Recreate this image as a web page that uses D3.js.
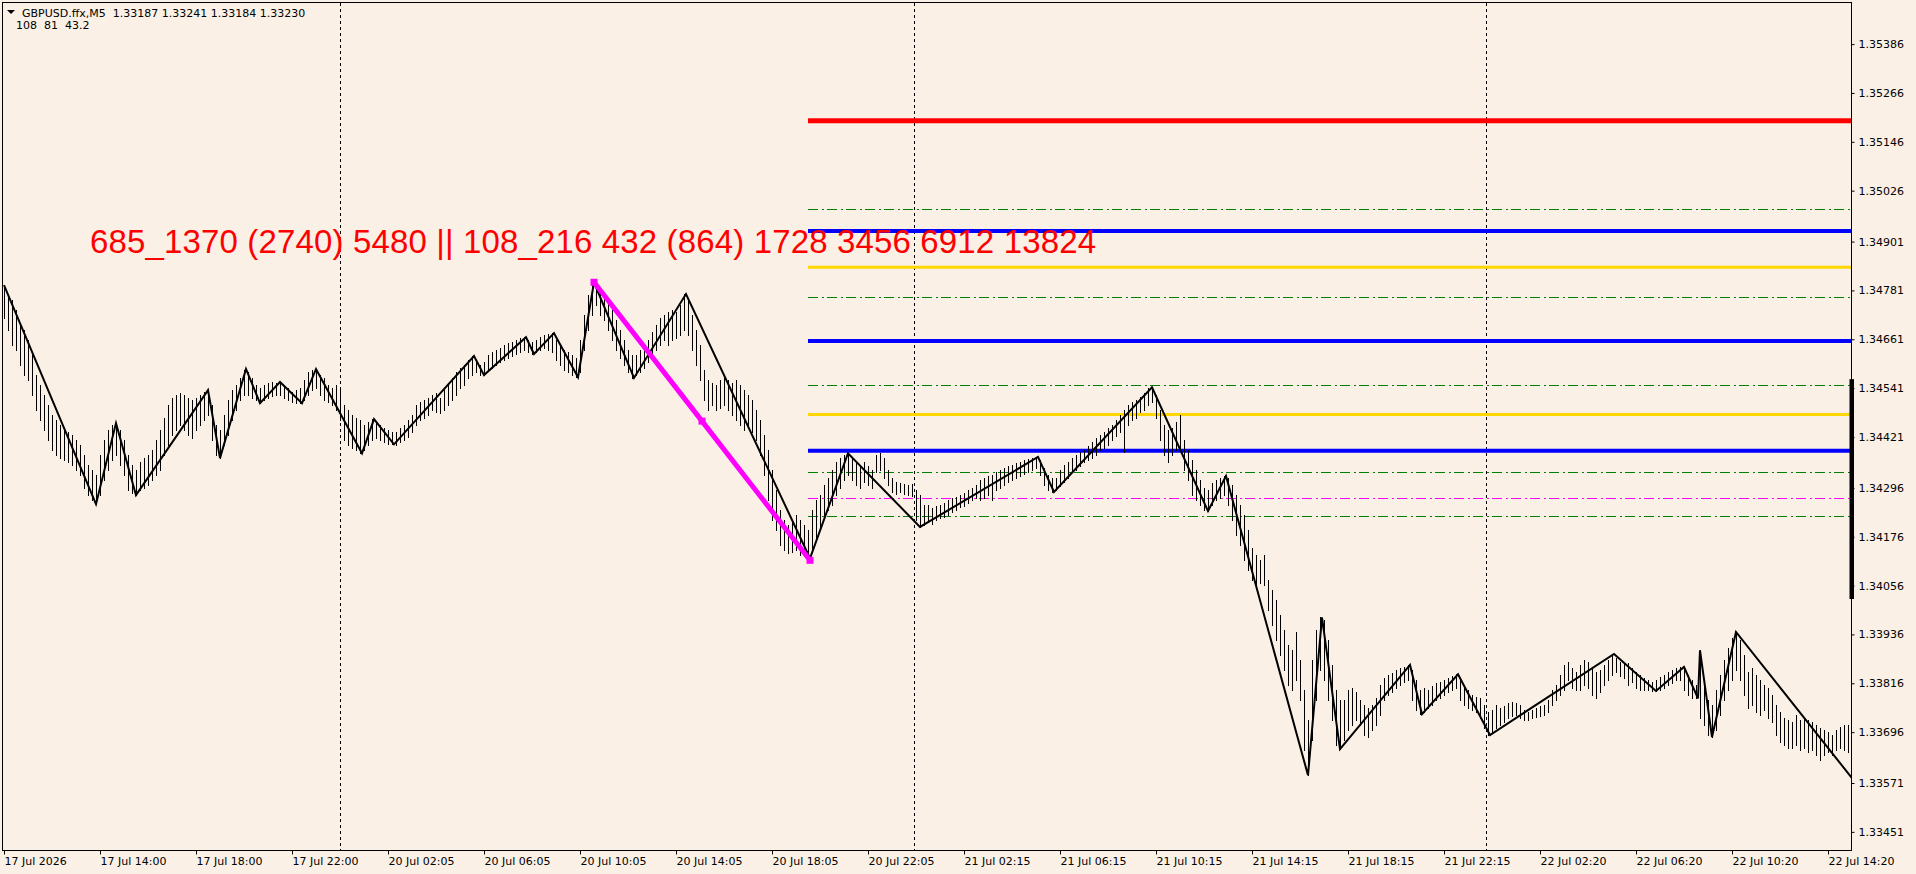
<!DOCTYPE html>
<html>
<head>
<meta charset="utf-8">
<script src="https://cdn.jsdelivr.net/npm/d3@7"></script>
<style>
  html, body { margin: 0; padding: 0; background: #faf0e6; overflow: hidden; }
  svg { display: block; }
</style>
</head>
<body>
<script>
// header / info texts
const symbolName = 'GBPUSD.ffx,M5';
const lastOHLC = [1.33187, 1.33241, 1.33184, 1.33230];
const zigzagParams = [108, 81, 43.2];
const infoText = '685_1370 (2740) 5480 || 108_216 432 (864) 1728 3456 6912 13824';

// time axis (M5 bar index of each label)
const timeLabels = ['17 Jul 2026', '17 Jul 14:00', '17 Jul 18:00', '17 Jul 22:00', '20 Jul 02:05',
  '20 Jul 06:05', '20 Jul 10:05', '20 Jul 14:05', '20 Jul 18:05', '20 Jul 22:05', '21 Jul 02:15',
  '21 Jul 06:15', '21 Jul 10:15', '21 Jul 14:15', '21 Jul 18:15', '21 Jul 22:15', '22 Jul 02:20',
  '22 Jul 06:20', '22 Jul 10:20', '22 Jul 14:20'];
const timeLabelBars = [0, 48, 96, 144, 192, 240, 288, 336, 384, 432, 480, 528, 576, 624, 672, 720, 768, 816, 864, 912];
const daySeparatorBars = [168, 455, 741];
const lastBar = 924;

// price axis
const priceTicks = [1.35386, 1.35266, 1.35146, 1.35026, 1.34901, 1.34781, 1.34661, 1.34541, 1.34421,
  1.34296, 1.34176, 1.34056, 1.33936, 1.33816, 1.33696, 1.33571, 1.33451];
const priceRange = [1.33404, 1.35487];

// price bars, one entry every 2nd M5 bar
const barStep = 2;
const barHigh = [
  1.34794, 1.34770, 1.34757, 1.34733, 1.34696, 1.34683, 1.34659, 1.34622, 1.34573, 1.34548, 1.34524, 1.34499,
  1.34475, 1.34462, 1.34450, 1.34438, 1.34433, 1.34425, 1.34413, 1.34401, 1.34376, 1.34352, 1.34339, 1.34327,
  1.34376, 1.34413, 1.34438, 1.34450, 1.34455,
  1.34438, 1.34413, 1.34376, 1.34352, 1.34339,
  1.34359, 1.34369, 1.34376, 1.34389, 1.34413, 1.34438, 1.34467, 1.34499, 1.34516, 1.34524, 1.34528, 1.34524,
  1.34516, 1.34511, 1.34516, 1.34524, 1.34531, 1.34536,
  1.34499, 1.34450, 1.34438,
  1.34475, 1.34511, 1.34536, 1.34548, 1.34565, 1.34585,
  1.34580, 1.34565, 1.34548, 1.34541,
  1.34548, 1.34553, 1.34556, 1.34553, 1.34556,
  1.34548, 1.34541, 1.34531, 1.34536, 1.34541,
  1.34561, 1.34580, 1.34585, 1.34588,
  1.34573, 1.34565, 1.34548, 1.34541, 1.34548, 1.34536, 1.34499, 1.34487, 1.34475, 1.34467, 1.34462,
  1.34450, 1.34457, 1.34465,
  1.34457, 1.34450, 1.34443, 1.34438, 1.34433,
  1.34433, 1.34443, 1.34450, 1.34462, 1.34475, 1.34499, 1.34506, 1.34511, 1.34516, 1.34524, 1.34528, 1.34516,
  1.34536, 1.34548, 1.34565, 1.34580, 1.34590, 1.34597, 1.34610, 1.34620,
  1.34610, 1.34597,
  1.34605, 1.34622, 1.34629, 1.34634, 1.34639, 1.34647, 1.34652, 1.34654, 1.34659, 1.34664, 1.34666,
  1.34659, 1.34654,
  1.34659, 1.34666, 1.34671, 1.34674, 1.34676,
  1.34659, 1.34647, 1.34634, 1.34629, 1.34622, 1.34615,
  1.34659, 1.34720, 1.34770, 1.34801,
  1.34794, 1.34782, 1.34770, 1.34757, 1.34733, 1.34708, 1.34683, 1.34659, 1.34634, 1.34622,
  1.34622, 1.34634, 1.34647, 1.34659, 1.34678, 1.34696, 1.34713, 1.34720, 1.34728, 1.34733, 1.34728, 1.34745, 1.34772,
  1.34757, 1.34720, 1.34683, 1.34647, 1.34585, 1.34561, 1.34553, 1.34548, 1.34561, 1.34565, 1.34561, 1.34553,
  1.34561, 1.34548, 1.34536, 1.34524, 1.34511, 1.34487, 1.34462, 1.34425, 1.34389, 1.34339, 1.34290, 1.34241,
  1.34217, 1.34204, 1.34217, 1.34229, 1.34217, 1.34204, 1.34192,
  1.34241, 1.34266, 1.34278, 1.34303, 1.34320, 1.34339, 1.34359, 1.34369, 1.34376, 1.34381,
  1.34369, 1.34359, 1.34352, 1.34359, 1.34349, 1.34339, 1.34376, 1.34381, 1.34369, 1.34339, 1.34320, 1.34310,
  1.34308, 1.34305, 1.34303, 1.34305, 1.34290, 1.34278,
  1.34253, 1.34253, 1.34246, 1.34251, 1.34253, 1.34258, 1.34266, 1.34271, 1.34273, 1.34278, 1.34283, 1.34290,
  1.34295, 1.34303, 1.34315, 1.34320, 1.34325, 1.34327, 1.34334, 1.34339, 1.34344, 1.34349, 1.34352, 1.34357,
  1.34359, 1.34364, 1.34367, 1.34369, 1.34372,
  1.34364, 1.34344, 1.34327, 1.34320,
  1.34320, 1.34339, 1.34352, 1.34359, 1.34369, 1.34376, 1.34384, 1.34389, 1.34398, 1.34408, 1.34418, 1.34425,
  1.34433, 1.34443, 1.34450, 1.34462, 1.34475, 1.34487, 1.34499, 1.34506, 1.34511, 1.34518, 1.34528, 1.34541,
  1.34541, 1.34524, 1.34487, 1.34450, 1.34438, 1.34443, 1.34457, 1.34475, 1.34413, 1.34389, 1.34364, 1.34339,
  1.34315, 1.34295, 1.34290,
  1.34307, 1.34315, 1.34320, 1.34325,
  1.34320, 1.34303, 1.34278, 1.34253, 1.34229, 1.34192, 1.34148, 1.34131, 1.34118, 1.34131, 1.34069, 1.34045,
  1.34020, 1.33983, 1.33947, 1.33910, 1.33897, 1.33942, 1.33873, 1.33799, 1.33725,
  1.33873, 1.33947, 1.33978,
  1.33971, 1.33922, 1.33861, 1.33799, 1.33774,
  1.33774, 1.33799, 1.33804, 1.33794, 1.33774, 1.33762, 1.33755, 1.33762, 1.33779, 1.33811, 1.33828, 1.33836,
  1.33841, 1.33848, 1.33853, 1.33855, 1.33861,
  1.33848, 1.33824, 1.33799,
  1.33804, 1.33799, 1.33809, 1.33816, 1.33819, 1.33824, 1.33828, 1.33833, 1.33838,
  1.33824, 1.33811, 1.33799, 1.33787, 1.33782, 1.33779, 1.33762, 1.33745,
  1.33750, 1.33762, 1.33755, 1.33760, 1.33767, 1.33770, 1.33767, 1.33762, 1.33750, 1.33745, 1.33750, 1.33755,
  1.33760, 1.33762, 1.33774, 1.33799, 1.33811, 1.33836, 1.33861, 1.33868, 1.33853, 1.33843, 1.33861, 1.33873,
  1.33868, 1.33853, 1.33843, 1.33848, 1.33861, 1.33873, 1.33885,
  1.33878, 1.33868, 1.33863, 1.33865, 1.33853, 1.33843, 1.33836, 1.33828, 1.33824, 1.33819,
  1.33824, 1.33831, 1.33836, 1.33843, 1.33848, 1.33853, 1.33855,
  1.33851, 1.33836, 1.33824, 1.33811, 1.33897, 1.33824, 1.33774, 1.33762,
  1.33799, 1.33836, 1.33873, 1.33902, 1.33927, 1.33942,
  1.33922, 1.33885, 1.33843, 1.33853, 1.33836, 1.33824, 1.33811, 1.33804, 1.33787, 1.33762, 1.33745, 1.33730,
  1.33725, 1.33720, 1.33738, 1.33725, 1.33730, 1.33725, 1.33720, 1.33713, 1.33706, 1.33701, 1.33696, 1.33688,
  1.33701, 1.33708, 1.33713, 1.33713
];
const barLow = [
  1.34713, 1.34683, 1.34647, 1.34634, 1.34597, 1.34573, 1.34561, 1.34524, 1.34487, 1.34462, 1.34438, 1.34413,
  1.34389, 1.34376, 1.34369, 1.34364, 1.34359, 1.34352, 1.34339, 1.34327, 1.34295, 1.34278, 1.34266, 1.34256,
  1.34278, 1.34315, 1.34339, 1.34364, 1.34376,
  1.34352, 1.34327, 1.34290, 1.34283, 1.34278,
  1.34290, 1.34295, 1.34303, 1.34315, 1.34327, 1.34339, 1.34376, 1.34401, 1.34425, 1.34438, 1.34450, 1.34438,
  1.34425, 1.34418, 1.34438, 1.34450, 1.34462, 1.34475,
  1.34413, 1.34376, 1.34369,
  1.34401, 1.34425, 1.34462, 1.34487, 1.34511, 1.34524,
  1.34524, 1.34516, 1.34511, 1.34504,
  1.34511, 1.34516, 1.34521, 1.34524, 1.34524,
  1.34516, 1.34511, 1.34506, 1.34504, 1.34504,
  1.34511, 1.34524, 1.34536, 1.34541,
  1.34524, 1.34511, 1.34506, 1.34499, 1.34487, 1.34462, 1.34413, 1.34401, 1.34393, 1.34389, 1.34381,
  1.34389, 1.34401, 1.34413,
  1.34418, 1.34413, 1.34408, 1.34403, 1.34403,
  1.34401, 1.34408, 1.34413, 1.34421, 1.34433, 1.34450, 1.34462, 1.34467, 1.34475, 1.34487, 1.34482, 1.34480,
  1.34487, 1.34499, 1.34511, 1.34524, 1.34541, 1.34548, 1.34565, 1.34573,
  1.34580, 1.34573,
  1.34573, 1.34585, 1.34590, 1.34597, 1.34605, 1.34610, 1.34615, 1.34620, 1.34625, 1.34629, 1.34634,
  1.34629, 1.34625,
  1.34629, 1.34634, 1.34639, 1.34634, 1.34629,
  1.34610, 1.34597, 1.34585, 1.34580, 1.34573, 1.34568,
  1.34580, 1.34634, 1.34683, 1.34720,
  1.34745, 1.34720, 1.34708, 1.34683, 1.34659, 1.34634, 1.34615, 1.34597, 1.34580, 1.34566,
  1.34573, 1.34580, 1.34590, 1.34605, 1.34622, 1.34634, 1.34647, 1.34659, 1.34647, 1.34659, 1.34664, 1.34671, 1.34683,
  1.34671, 1.34634, 1.34597, 1.34561, 1.34511, 1.34487, 1.34499, 1.34487, 1.34492, 1.34499, 1.34487, 1.34475,
  1.34462, 1.34450, 1.34438, 1.34443, 1.34433, 1.34413, 1.34376, 1.34327, 1.34266, 1.34217, 1.34192, 1.34155,
  1.34143, 1.34135, 1.34138, 1.34143, 1.34131, 1.34128, 1.34123,
  1.34143, 1.34168, 1.34192, 1.34221, 1.34241, 1.34253, 1.34278, 1.34295, 1.34315, 1.34327,
  1.34315, 1.34303, 1.34295, 1.34310, 1.34303, 1.34295, 1.34334, 1.34339, 1.34320, 1.34303, 1.34285, 1.34280,
  1.34285, 1.34280, 1.34278, 1.34276, 1.34217, 1.34200,
  1.34204, 1.34212, 1.34207, 1.34217, 1.34221, 1.34224, 1.34229, 1.34236, 1.34241, 1.34248, 1.34251, 1.34258,
  1.34266, 1.34271, 1.34266, 1.34271, 1.34278, 1.34266, 1.34290, 1.34295, 1.34303, 1.34310, 1.34315, 1.34320,
  1.34325, 1.34330, 1.34334, 1.34339, 1.34344,
  1.34327, 1.34303, 1.34290, 1.34286,
  1.34290, 1.34300, 1.34310, 1.34320, 1.34334, 1.34339, 1.34349, 1.34359, 1.34364, 1.34369, 1.34376, 1.34389,
  1.34393, 1.34401, 1.34413, 1.34423, 1.34433, 1.34384, 1.34450, 1.34462, 1.34467, 1.34482, 1.34487, 1.34499,
  1.34506, 1.34467, 1.34413, 1.34376, 1.34359, 1.34376, 1.34389, 1.34389, 1.34339, 1.34315, 1.34278, 1.34266,
  1.34253, 1.34241, 1.34239,
  1.34253, 1.34266, 1.34271, 1.34278,
  1.34253, 1.34217, 1.34180, 1.34155, 1.34118, 1.34094, 1.34069, 1.34057, 1.34062, 1.34057, 1.33996, 1.33959,
  1.33922, 1.33885, 1.33848, 1.33811, 1.33799, 1.33824, 1.33774, 1.33652, 1.33590,
  1.33676, 1.33774, 1.33848,
  1.33824, 1.33774, 1.33725, 1.33664, 1.33654,
  1.33676, 1.33701, 1.33713, 1.33725, 1.33713, 1.33688, 1.33684, 1.33701, 1.33713, 1.33738, 1.33774, 1.33787,
  1.33794, 1.33804, 1.33811, 1.33819, 1.33824,
  1.33774, 1.33750, 1.33740,
  1.33745, 1.33755, 1.33762, 1.33774, 1.33779, 1.33787, 1.33794, 1.33799, 1.33804,
  1.33774, 1.33762, 1.33755, 1.33750, 1.33745, 1.33730, 1.33706, 1.33689,
  1.33696, 1.33706, 1.33713, 1.33720, 1.33730, 1.33735, 1.33738, 1.33730, 1.33725, 1.33725, 1.33730, 1.33733,
  1.33735, 1.33738, 1.33745, 1.33762, 1.33774, 1.33787, 1.33799, 1.33824, 1.33804, 1.33799, 1.33799, 1.33811,
  1.33804, 1.33787, 1.33779, 1.33794, 1.33811, 1.33824, 1.33836,
  1.33843, 1.33834, 1.33829, 1.33811, 1.33819, 1.33804, 1.33799, 1.33799, 1.33799, 1.33797,
  1.33797, 1.33799, 1.33804, 1.33811, 1.33816, 1.33824, 1.33824,
  1.33799, 1.33787, 1.33779, 1.33779, 1.33730, 1.33713, 1.33689, 1.33684,
  1.33701, 1.33738, 1.33774, 1.33799, 1.33824, 1.33848,
  1.33824, 1.33787, 1.33755, 1.33762, 1.33745, 1.33738, 1.33750, 1.33730, 1.33720, 1.33688, 1.33671, 1.33664,
  1.33657, 1.33657, 1.33664, 1.33652, 1.33657, 1.33647, 1.33652, 1.33640, 1.33627, 1.33640, 1.33647, 1.33640,
  1.33652, 1.33657, 1.33652, 1.33647
];

// zigzag turning points
const zigzagBars = [0, 46, 56, 66, 102, 108, 121, 128, 138, 149, 156, 179, 185, 195, 235, 240, 261, 265, 275, 287,
  295, 315, 341, 403, 422, 458, 517, 525, 574, 602, 611, 652, 659, 668, 703, 709, 727, 743, 805, 826,
  840, 847, 848, 854, 866, 924];
const zigzagPrices = [1.34794, 1.34256, 1.34455, 1.34278, 1.34536, 1.34369, 1.34588, 1.34504, 1.34556, 1.34504,
  1.34588, 1.34381, 1.34465, 1.34403, 1.34620, 1.34573, 1.34666, 1.34625, 1.34676, 1.34568,
  1.34801, 1.34566, 1.34772, 1.34123, 1.34381, 1.34200, 1.34372, 1.34286, 1.34543, 1.34239,
  1.34325, 1.33590, 1.33978, 1.33654, 1.33861, 1.33740, 1.33838, 1.33689, 1.33888, 1.33797,
  1.33856, 1.33779, 1.33897, 1.33684, 1.33942, 1.33583];

// magenta swing line (start, middle, end)
const swingBars = [295, 349, 403];
const swingPrices = [1.34801, 1.34460, 1.34118];

// horizontal levels
const levelStartBar = 402;
const levelPrices = [1.35198, 1.34980, 1.34927, 1.34838, 1.34765, 1.34657, 1.34548, 1.34476, 1.34387, 1.34334, 1.34270, 1.34227];
const levelKinds = ['red', 'green', 'blue', 'gold', 'green', 'blue', 'green', 'gold', 'blue', 'green', 'magenta', 'green'];

// thick mark on the price scale
const axisMarkPrices = [1.34563, 1.34023];

const levelStyle = {
  red:     {color: '#ff0000', width: 5, dash: null},
  blue:    {color: '#0000ff', width: 4, dash: null},
  gold:    {color: '#ffd700', width: 3, dash: null},
  green:   {color: '#008000', width: 1, dash: '10,4,2,3'},
  magenta: {color: '#ff00ff', width: 1, dash: '10,4,2,3'}
};

const width = 1916, height = 874;
const plot = {left: 3, top: 3, right: 1852, bottom: 851};

const x = d3.scaleLinear().domain([0, lastBar]).range([plot.left + 1, plot.right]);
const y = d3.scaleLinear().domain(priceRange).range([plot.bottom, plot.top]);

const svg = d3.select('body').append('svg')
    .attr('width', width)
    .attr('height', height)
    .style('background', '#faf0e6');

svg.append('defs').append('clipPath').attr('id', 'plotClip')
  .append('rect')
    .attr('x', plot.left)
    .attr('y', plot.top)
    .attr('width', plot.right - plot.left)
    .attr('height', plot.bottom - plot.top);

const g = svg.append('g').attr('clip-path', 'url(#plotClip)');

// day separators
g.selectAll('.sep')
  .data(daySeparatorBars)
  .join('line')
    .attr('class', 'sep')
    .attr('x1', d => Math.round(x(d)) + 0.5)
    .attr('x2', d => Math.round(x(d)) + 0.5)
    .attr('y1', plot.top)
    .attr('y2', plot.bottom)
    .attr('stroke', '#000')
    .attr('stroke-width', 1)
    .attr('stroke-dasharray', '3,3');

// horizontal levels
const levels = levelPrices.map((p, i) => ({price: p, kind: levelKinds[i]}));
g.selectAll('.level')
  .data(levels)
  .join('line')
    .attr('class', 'level')
    .attr('x1', x(levelStartBar))
    .attr('x2', plot.right)
    .attr('y1', d => levelStyle[d.kind].width === 1 ? Math.round(y(d.price)) + 0.5 : y(d.price))
    .attr('y2', d => levelStyle[d.kind].width === 1 ? Math.round(y(d.price)) + 0.5 : y(d.price))
    .attr('stroke', d => levelStyle[d.kind].color)
    .attr('stroke-width', d => levelStyle[d.kind].width)
    .attr('stroke-dasharray', d => levelStyle[d.kind].dash);

// price bars
const nBars = Math.min(barHigh.length, barLow.length);
g.selectAll('.bar')
  .data(d3.range(nBars))
  .join('line')
    .attr('class', 'bar')
    .attr('x1', i => Math.round(x(i * barStep)) + 0.5)
    .attr('x2', i => Math.round(x(i * barStep)) + 0.5)
    .attr('y1', i => Math.round(y(barHigh[i])))
    .attr('y2', i => Math.round(y(barLow[i])) + 1)
    .attr('stroke', '#000')
    .attr('stroke-width', 1)
    .attr('shape-rendering', 'crispEdges');

// zigzag
const zz = zigzagBars.map((b, i) => [b, zigzagPrices[i]]);
g.append('path')
    .datum(zz)
    .attr('fill', 'none')
    .attr('stroke', '#000')
    .attr('stroke-width', 2)
    .attr('stroke-linejoin', 'miter')
    .attr('d', d3.line().x(d => x(d[0])).y(d => y(d[1])));

// magenta swing
const sw = swingBars.map((b, i) => [b, swingPrices[i]]);
g.append('path')
    .datum(sw)
    .attr('fill', 'none')
    .attr('stroke', '#ff00ff')
    .attr('stroke-width', 5)
    .attr('d', d3.line().x(d => x(d[0])).y(d => y(d[1])));
g.selectAll('.swingMark')
  .data(sw)
  .join('rect')
    .attr('class', 'swingMark')
    .attr('x', d => x(d[0]) - 3.5)
    .attr('y', d => y(d[1]) - 3.5)
    .attr('width', 7)
    .attr('height', 7)
    .attr('fill', '#ff00ff');

// plot frame
svg.append('rect')
    .attr('x', plot.left - 0.5)
    .attr('y', plot.top - 0.5)
    .attr('width', plot.right - plot.left)
    .attr('height', plot.bottom - plot.top)
    .attr('fill', 'none')
    .attr('stroke', '#000')
    .attr('stroke-width', 1);

// price axis
const yAxis = svg.append('g')
    .attr('transform', `translate(${plot.right - 0.5},0)`)
    .call(d3.axisRight(y).tickValues(priceTicks).tickFormat(d3.format('.5f')).tickSize(3).tickPadding(4));
yAxis.select('.domain').remove();
yAxis.attr('font-family', 'DejaVu Sans').attr('font-size', 11);
yAxis.selectAll('text').attr('fill', '#000');

// thick mark on price scale
svg.append('rect')
    .attr('x', plot.right - 2.5)
    .attr('y', y(axisMarkPrices[0]))
    .attr('width', 4.5)
    .attr('height', y(axisMarkPrices[1]) - y(axisMarkPrices[0]))
    .attr('fill', '#000');

// time axis
const xAxis = svg.append('g')
    .attr('transform', `translate(0,${plot.bottom - 0.5})`)
    .call(d3.axisBottom(x).tickValues(timeLabelBars).tickFormat((d, i) => timeLabels[i]).tickSize(4).tickPadding(3));
xAxis.select('.domain').remove();
xAxis.attr('font-family', 'DejaVu Sans').attr('font-size', 11);
xAxis.selectAll('text').attr('text-anchor', 'start').attr('x', 0).attr('fill', '#000');

// header
svg.append('path')
    .attr('d', 'M7,10L15,10L11,14Z')
    .attr('fill', '#000');
svg.append('text')
    .attr('x', 22)
    .attr('y', 17)
    .attr('font-family', 'DejaVu Sans')
    .attr('font-size', 11)
    .style('white-space', 'pre')
    .text(symbolName + '  ' + lastOHLC.map(d3.format('.5f')).join(' '));
svg.append('text')
    .attr('x', 16)
    .attr('y', 29)
    .attr('font-family', 'DejaVu Sans')
    .attr('font-size', 11)
    .style('white-space', 'pre')
    .text(zigzagParams.join('  '));

// red info text
svg.append('text')
    .attr('x', 90)
    .attr('y', 253)
    .attr('font-family', 'Liberation Sans')
    .attr('font-size', 33)
    .attr('fill', '#ff0000')
    .attr('textLength', 1006)
    .attr('lengthAdjust', 'spacing')
    .text(infoText);
</script>
</body>
</html>
